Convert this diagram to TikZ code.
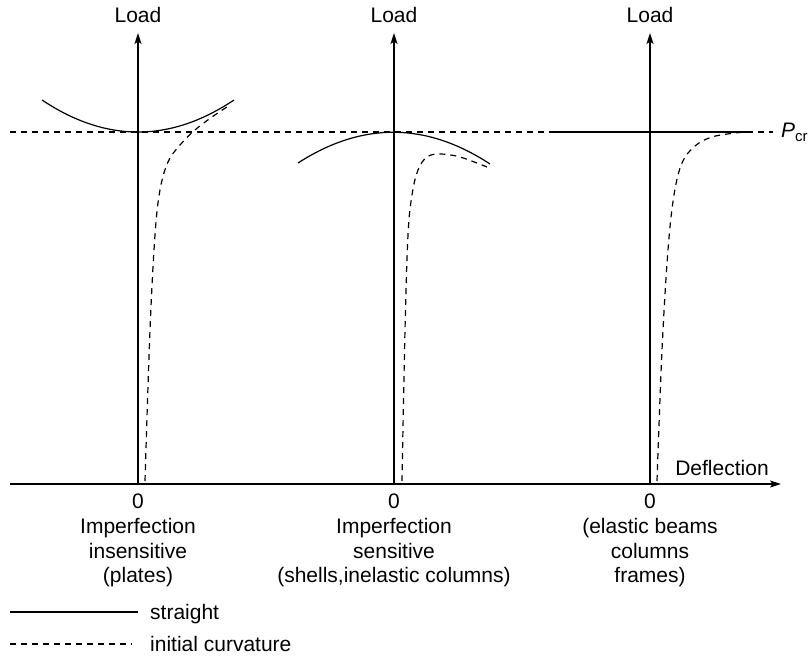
\documentclass[tikz,border=0pt]{standalone}
\usepackage{fontspec}
\setmainfont{Liberation Sans}
\usetikzlibrary{arrows.meta}
\tikzset{
  axisline/.style={line width=1.5pt, -{Stealth[length=11pt,width=7pt,inset=2.5pt]}},
  solidcurve/.style={line width=1.2pt},
  dashcurve/.style={line width=1.2pt, dash pattern=on 6pt off 5pt},
  lbl/.style={inner sep=0pt, font=\fontsize{21}{24.5}\selectfont},
  caption/.style={lbl, align=center}
}
\begin{document}
\begin{tikzpicture}[x=1pt,y=-1pt]
\useasboundingbox (0,0) rectangle (811,659);
% axis coordinates
\coordinate (hx0) at (10,484);
\coordinate (hx1) at (781,484);
\coordinate (a1b) at (138,484); \coordinate (a1t) at (138,33);
\coordinate (a2b) at (394,484); \coordinate (a2t) at (394,33);
\coordinate (a3b) at (650,484); \coordinate (a3t) at (650,33);
\coordinate (pc0) at (10,132);
\coordinate (pc1) at (773,132);
% P_cr line
\draw[dashcurve] (pc0) -- (pc1);
\node[lbl, anchor=west] (pcr) at (781,132) {\textit{P}\raisebox{-0.35ex}{\fontsize{15}{15}\selectfont cr}};
% axes
\draw[axisline] (hx0) -- (hx1);
\draw[axisline] (a1b) -- (a1t);
\draw[axisline] (a2b) -- (a2t);
\draw[axisline] (a3b) -- (a3t);
\node[lbl] (load1) at (138,15) {Load};
\node[lbl] (load2) at (394,15) {Load};
\node[lbl] (load3) at (650,15) {Load};
\node[lbl] (defl) at (722,468) {Deflection};
\node[lbl] (z1) at (138,501) {0};
\node[lbl] (z2) at (394,501) {0};
\node[lbl] (z3) at (650,501) {0};
\node[caption] (c1) at (138,553) {Imperfection\\insensitive\\(plates)};
\node[caption] (c2) at (394,553) {Imperfection\\sensitive\\(shells,inelastic columns)};
\node[caption] (c3) at (650,553) {(elastic beams\\columns\\frames)};
% left curves
\draw[solidcurve] (42,100) .. controls (106,142.7) and (170,142.7) .. (234,100);
\draw[dashcurve] plot[smooth, tension=0.6] coordinates {(145,481) (150,330) (155,235) (160,190) (168,162) (180,145) (195,130) (212,117) (230,105)};
% middle curves
\draw[solidcurve] (298,163) .. controls (362,121.7) and (426,122) .. (490,164);
\draw[dashcurve] plot[smooth, tension=0.6] coordinates {(402,481) (405,330) (408,235) (412,195) (418,170) (427,157) (440,154) (460,157) (487,167)};
% right curves
\draw[solidcurve] (555,132) -- (750,132);
\draw[dashcurve] plot[smooth, tension=0.6] coordinates {(657,481) (662,350) (668,250) (674,195) (682,163) (695,146) (712,137) (735,133) (748,132)};
% legend
\coordinate (l1a) at (10,612); \coordinate (l1b) at (138,612);
\coordinate (l2a) at (10,644); \coordinate (l2b) at (132,644);
\draw[solidcurve] (l1a) -- (l1b);
\draw[dashcurve] (l2a) -- (l2b);
\node[lbl, anchor=west] (lg1) at (150,614) {straight};
\node[lbl, anchor=west] (lg2) at (150,644) {initial curvature};
\end{tikzpicture}
\end{document}
